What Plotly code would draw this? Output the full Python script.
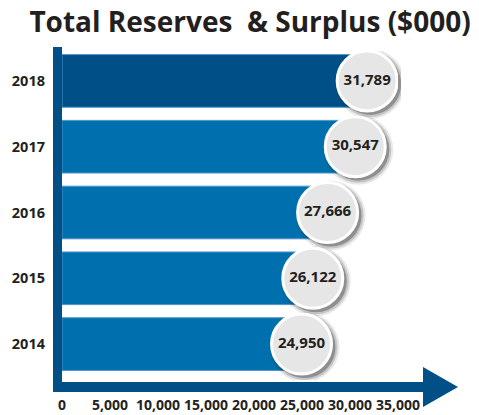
import plotly.graph_objects as go

# Data
years = ["2014", "2015", "2016", "2017", "2018"]
reserves = [24950, 26122, 27666, 30547, 31789]
tick_values = [0, 5000, 10000, 15000, 20000, 25000, 30000, 35000]
tick_labels = [f"{v:,}" for v in tick_values]

DARK_BLUE = "#004f86"
MID_BLUE = "#006fae"
TEXT = "#231f20"
bar_colors = [DARK_BLUE if y == "2018" else MID_BLUE for y in years]

W, H = 479, 415
L, T = 62, 48
PW, PH = 339, 332          # plot box incl. room for the shadow offset
SHIFT = 3                  # shadow offset in px
R = W - L - PW
B = H - T - PH

fig = go.Figure()

# Bars
fig.add_trace(go.Bar(
    x=reserves, y=years, orientation="h",
    marker=dict(color=bar_colors, line=dict(color="#4d93c9", width=1)),
    width=0.8, hoverinfo="skip", xaxis="x", yaxis="y",
))

# Soft drop shadow of the value bubbles (slightly offset subplot)
for size, alpha in [(70, 0.10), (66, 0.18), (62, 0.35)]:
    fig.add_trace(go.Scatter(
        x=reserves, y=years, mode="markers",
        marker=dict(size=size, color=f"rgba(40,40,40,{alpha})", line=dict(width=0)),
        hoverinfo="skip", xaxis="x2", yaxis="y2",
    ))

# Value bubbles
fig.add_trace(go.Scatter(
    x=reserves, y=years, mode="markers+text",
    marker=dict(size=60, color="#e6e6e6", line=dict(color="white", width=3)),
    text=[f"{v:,}" for v in reserves], textposition="middle center",
    textfont=dict(family="Open Sans", size=15, color=TEXT, weight="bold"),
    hoverinfo="skip", xaxis="x3", yaxis="y3",
))

dx = SHIFT / PW
dy = SHIFT / PH
xr = [0, 35000]
yr = [-0.5, 4.5]
hidden = dict(visible=False, fixedrange=True)

fig.update_layout(
    width=W, height=H,
    margin=dict(l=L, r=R, t=T, b=B),
    paper_bgcolor="white", plot_bgcolor="rgba(0,0,0,0)",
    showlegend=False, bargap=0.2,
    title=dict(
        text="Total Reserves  & Surplus ($000)",
        x=0.522, xanchor="center", y=1 - 22 / H, yanchor="middle",
        font=dict(family="Open Sans", size=28, color=TEXT, weight="bold"),
    ),
    xaxis=dict(
        domain=[0, 1 - dx], range=xr, tickvals=tick_values, ticktext=tick_labels,
        ticks="outside", ticklen=15, tickcolor="rgba(0,0,0,0)",
        showgrid=False, zeroline=False, showline=False, automargin=False,
        tickfont=dict(family="Open Sans", size=14, color=TEXT, weight="bold"),
        fixedrange=True,
    ),
    yaxis=dict(
        domain=[dy, 1], range=yr, type="category", categoryorder="array",
        categoryarray=years, showgrid=False, zeroline=False, showline=False,
        ticks="", ticklabelstandoff=16, automargin=False,
        tickfont=dict(family="Open Sans", size=14.5, color=TEXT, weight="bold"),
        fixedrange=True,
    ),
    xaxis2=dict(domain=[dx, 1], range=xr, anchor="y2", **hidden),
    yaxis2=dict(domain=[0, 1 - dy], range=yr, type="category", categoryorder="array",
                categoryarray=years, anchor="x2", **hidden),
    xaxis3=dict(domain=[0, 1 - dx], range=xr, anchor="y3", **hidden),
    yaxis3=dict(domain=[dy, 1], range=yr, type="category", categoryorder="array",
                categoryarray=years, anchor="x3", **hidden),
)


def px_x(px):
    return (px - L) / PW


def px_y(py):
    return (H - B - py) / PH


# Axis frame: vertical bar on the left and an arrow along the bottom
fig.add_shape(type="rect", xref="paper", yref="paper",
              x0=px_x(53), x1=px_x(62), y0=px_y(392), y1=px_y(47),
              fillcolor=DARK_BLUE, line=dict(width=0), layer="above")
fig.add_shape(type="rect", xref="paper", yref="paper",
              x0=px_x(53), x1=px_x(424), y0=px_y(392), y1=px_y(382),
              fillcolor=DARK_BLUE, line=dict(width=0), layer="above")
fig.add_shape(type="path", xref="paper", yref="paper",
              path=f"M {px_x(423)} {px_y(367)} L {px_x(458)} {px_y(387)} L {px_x(423)} {px_y(407)} Z",
              fillcolor=DARK_BLUE, line=dict(width=0), layer="above")

fig.write_html("out.html")
